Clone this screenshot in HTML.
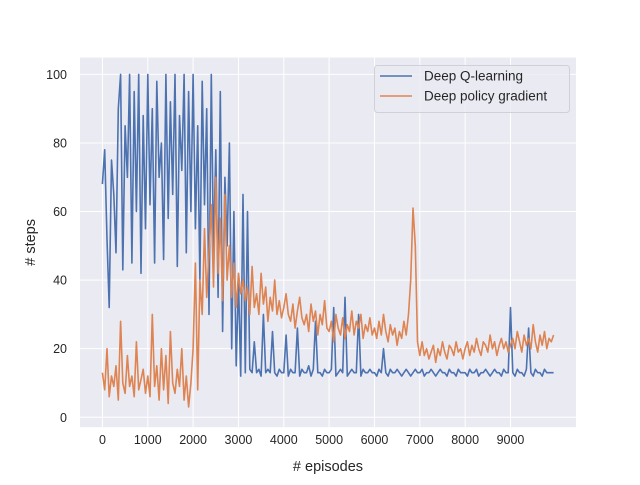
<!DOCTYPE html>
<html><head><meta charset="utf-8"><style>
body{margin:0;background:#fff;}
svg text{font-family:"Liberation Sans",Arial,sans-serif;fill:#262626;}
</style></head><body>
<svg id="chart" width="640" height="480" xmlns="http://www.w3.org/2000/svg"></svg>
<script>
const episodes = Array.from({length:200},(_,i)=>i*50);
const dqnSteps = [
68,78,52,32,75,65,48,90,100,43,85,70,100,45,95,60,100,42,88,55,
100,62,90,45,98,70,80,46,100,58,92,65,100,44,88,72,100,48,95,60,
100,55,85,40,98,62,90,30,100,48,78,35,95,25,70,50,80,20,60,15,
40,12,65,13,60,14,13,22,13,14,12,30,13,14,13,25,13,12,14,13,
13,24,12,14,13,13,26,12,14,13,13,15,12,14,28,13,13,12,14,13,
13,14,32,12,13,14,13,35,12,13,14,13,13,30,12,14,13,13,14,13,
13,12,14,13,20,13,12,14,13,13,14,13,12,13,14,13,12,13,14,13,
13,14,12,13,13,14,13,12,13,14,13,13,12,14,13,13,12,14,13,13,
13,12,14,13,13,14,12,13,13,14,13,12,13,14,13,13,12,14,13,13,
32,13,12,14,13,13,12,14,26,13,12,14,13,13,12,14,13,13,13,13];
const pgSteps = [
13,8,20,6,12,9,15,5,28,10,7,18,9,12,6,22,8,11,14,7,
12,6,30,9,15,5,20,8,18,4,25,10,7,14,9,20,5,12,3,10,
20,45,8,40,30,55,35,48,62,38,70,42,58,34,65,40,50,35,45,32,
42,36,40,34,38,30,44,32,36,30,42,33,38,28,35,31,40,30,34,29,
32,36,30,28,33,26,31,35,29,27,30,25,33,28,31,24,30,27,34,26,
25,28,22,30,26,24,29,23,27,25,31,24,28,26,30,23,27,25,29,24,
26,23,28,24,30,25,22,27,24,26,21,25,23,28,24,30,40,61,50,22,
18,22,18,20,17,19,21,16,20,18,22,19,17,21,20,18,22,19,20,17,
20,22,18,21,19,23,20,18,22,21,19,24,20,22,18,21,23,20,22,19,
21,23,20,25,22,19,24,21,23,20,27,22,19,24,21,25,20,23,22,24];
const xTicks = [0,1000,2000,3000,4000,5000,6000,7000,8000,9000];
const yTicks = [0,20,40,60,80,100];
const seriesNames = ["Deep Q-learning","Deep policy gradient"];

const svg = document.getElementById('chart');
const NS = 'http://www.w3.org/2000/svg';
const L=80,R=576,T=57.6,B=427.2;
const xMin=-495,xMax=10445,yMin=-2.9,yMax=104.9;
const sx=v=>L+(v-xMin)/(xMax-xMin)*(R-L);
const sy=v=>B-(v-yMin)/(yMax-yMin)*(B-T);
function mk(tag,attrs,parent){const e=document.createElementNS(NS,tag);for(const k in attrs)e.setAttribute(k,attrs[k]);(parent||svg).appendChild(e);return e;}

const bg = mk('rect',{x:L,y:T,width:R-L,height:B-T,fill:'#eaeaf2'});



xTicks.forEach(t=>{
  const g = mk('line',{x1:sx(t),x2:sx(t),y1:T,y2:B,stroke:'#fff','stroke-width':1});
  
  
  const tx = mk('text',{x:sx(t),y:B+17,'text-anchor':'middle','font-size':12.5});
  tx.textContent=t;
  
  
});
yTicks.forEach(t=>{
  const g = mk('line',{x1:L,x2:R,y1:sy(t),y2:sy(t),stroke:'#fff','stroke-width':1});
  
  
  const tx = mk('text',{x:L-13,y:sy(t)+4.5,'text-anchor':'end','font-size':12.5});
  tx.textContent=t;
  
  
});

function line(vals,color,name){
  const d = vals.map((v,i)=>(i?'L':'M')+sx(episodes[i]).toFixed(1)+','+sy(v).toFixed(1)).join('');
  const p = mk('path',{d:d,fill:'none',stroke:color,'stroke-width':1.6,'stroke-linejoin':'round'});
  
  
}
line(dqnSteps,'#4c72b0','dqn-line');
line(pgSteps,'#dd8452','policy-gradient-line');

const xl = mk('text',{x:(L+R)/2,y:471,'text-anchor':'middle','font-size':14.5});
xl.textContent='# episodes';


const yl = mk('text',{x:0,y:0,'text-anchor':'middle','font-size':14.5,transform:`translate(35,${(T+B)/2}) rotate(-90)`});
yl.textContent='# steps';



const lg = mk('g',{});


mk('rect',{x:374.5,y:65.5,width:195,height:47,rx:3,fill:'#eaeaf2','fill-opacity':0.8,stroke:'#d0d0d8'},lg);
const colors=['#4c72b0','#dd8452'];
seriesNames.forEach((n,i)=>{
  const y=76+i*20;
  const ln = mk('line',{x1:380,x2:412,y1:y,y2:y,stroke:colors[i],'stroke-width':1.5},lg);
  
  
  const t = mk('text',{x:424,y:y+4.5,'font-size':13.5},lg);
  t.textContent=n;
  
  
});
</script>
</body></html>
